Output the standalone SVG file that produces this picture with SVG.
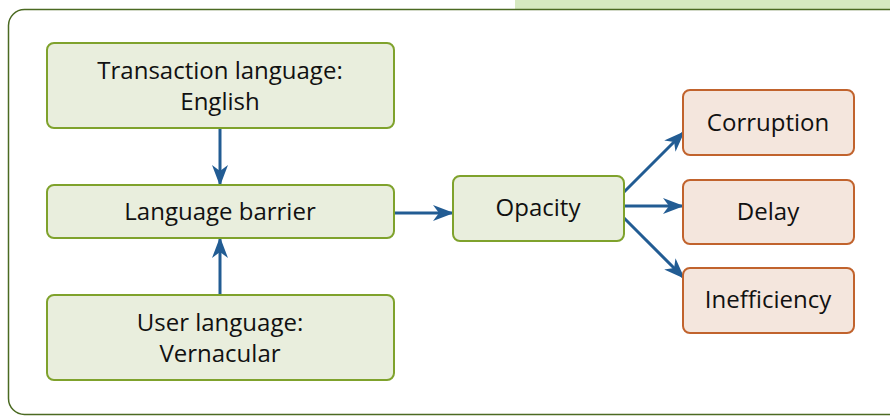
<svg xmlns="http://www.w3.org/2000/svg" width="890" height="416" viewBox="0 0 890 416">
<defs>
<style>
.g rect{fill:#e9eedd;stroke:#7fa22c;stroke-width:2}
.o rect{fill:#f4e6dd;stroke:#c1632d;stroke-width:2}
text{font-family:"Open Sans","Noto Sans",sans-serif;font-size:24px;fill:#111;text-anchor:middle}
.c line{stroke:#225c93;stroke-width:3;marker-end:url(#ah)}
</style>
<marker id="ah" viewBox="0 0 21 16" refX="20" refY="8" markerWidth="21" markerHeight="16" markerUnits="userSpaceOnUse" orient="auto">
<path d="M0,0 L21,8 L0,16 L6,8 z" fill="#225c93"/>
</marker>
</defs>
<rect x="0" y="0" width="890" height="416" fill="#fff"/>
<rect x="515" y="0" width="375" height="9" fill="#d6e9c0"/>
<rect x="8.5" y="9.5" width="900" height="405" rx="16" fill="none" stroke="#4b6a22" stroke-width="1.5"/>
<g class="c">
<line x1="220" y1="128" x2="220" y2="185"/>
<line x1="220" y1="295" x2="220" y2="238"/>
<line x1="393" y1="213" x2="453" y2="213"/>
<line x1="624" y1="192" x2="684" y2="132"/>
<line x1="624" y1="206" x2="683" y2="206"/>
<line x1="624" y1="218" x2="684" y2="278"/>
</g>
<g id="transaction" class="g"><rect x="47" y="43" width="347" height="85" rx="7"/><text x="220" y="79">Transaction language:</text><text x="220" y="110">English</text></g>
<g id="barrier" class="g"><rect x="47" y="185" width="347" height="53" rx="7"/><text x="220" y="220">Language barrier</text></g>
<g id="user" class="g"><rect x="47" y="295" width="347" height="85" rx="7"/><text x="220" y="331">User language:</text><text x="220" y="362">Vernacular</text></g>
<g id="opacity" class="g"><rect x="453" y="176" width="171" height="65" rx="7"/><text x="538" y="216">Opacity</text></g>
<g id="corruption" class="o"><rect x="683" y="90" width="171" height="65" rx="7"/><text x="768" y="131">Corruption</text></g>
<g id="delay" class="o"><rect x="683" y="180" width="171" height="64" rx="7"/><text x="768" y="220">Delay</text></g>
<g id="inefficiency" class="o"><rect x="683" y="268" width="171" height="65" rx="7"/><text x="768" y="308">Inefficiency</text></g>
</svg>
